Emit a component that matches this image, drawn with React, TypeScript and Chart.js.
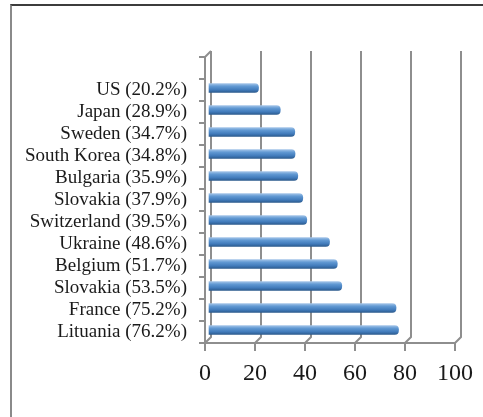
import React, { useEffect, useRef } from "react";
import { Chart, registerables } from "chart.js";

Chart.register(...registerables);

// Countries from top to bottom; the leading blank slot is the empty row above "US".
const countries = [
  "",
  "US",
  "Japan",
  "Sweden",
  "South Korea",
  "Bulgaria",
  "Slovakia",
  "Switzerland",
  "Ukraine",
  "Belgium",
  "Slovakia",
  "France",
  "Lituania",
];

const shares: (number | null)[] = [
  null, 20.2, 28.9, 34.7, 34.8, 35.9, 37.9, 39.5, 48.6, 51.7, 53.5, 75.2, 76.2,
];

const xTicks = [0, 20, 40, 60, 80, 100];

const categoryLabels = countries.map((name, i) =>
  shares[i] == null ? "" : `${name} (${(shares[i] as number).toFixed(1)}%)`
);

const LINE = "#8e8e8e";
const DEPTH_X = 6;
const DEPTH_Y = 6;
const BAR = 9;

// Back wall, left wall and floor of the 3-D box behind the bars.
const wallsPlugin = {
  id: "walls",
  beforeDatasetsDraw(chart: any) {
    const { ctx, chartArea, scales } = chart;
    const x = scales.x;
    const { top, bottom } = chartArea;
    ctx.save();
    ctx.strokeStyle = LINE;
    ctx.lineWidth = 2;
    xTicks.forEach((v) => {
      const px = x.getPixelForValue(v);
      ctx.beginPath();
      ctx.moveTo(px + DEPTH_X, top - DEPTH_Y);
      ctx.lineTo(px + DEPTH_X, bottom - DEPTH_Y);
      ctx.lineTo(px, bottom);
      ctx.stroke();
    });
    const left = x.getPixelForValue(0);
    ctx.beginPath();
    ctx.moveTo(left, top);
    ctx.lineTo(left + DEPTH_X, top - DEPTH_Y);
    ctx.stroke();
    ctx.restore();
  },
  // Bars sit halfway into the box depth.
  beforeDatasetDraw(chart: any) {
    chart.ctx.save();
    chart.ctx.translate(DEPTH_X / 2, -DEPTH_Y / 2 + 1);
  },
  afterDatasetDraw(chart: any) {
    chart.ctx.restore();
  },
};

export default function App() {
  const ref = useRef<HTMLCanvasElement>(null);

  useEffect(() => {
    if (!ref.current) return;
    const chart = new Chart(ref.current, {
      type: "bar",
      data: {
        labels: categoryLabels,
        datasets: [
          {
            data: shares,
            barThickness: BAR,
            borderRadius: { topRight: 4, bottomRight: 4, topLeft: 0, bottomLeft: 0 },
            borderSkipped: false,
            backgroundColor: (c: any) => {
              const ch = c.chart;
              const ys = ch.scales?.y;
              if (!ys || c.dataIndex == null) return "#4a86c5";
              const cy = ys.getPixelForValue(c.dataIndex);
              if (!Number.isFinite(cy)) return "#4a86c5";
              const g = ch.ctx.createLinearGradient(0, cy - BAR / 2, 0, cy + BAR / 2);
              g.addColorStop(0, "#a3c4e8");
              g.addColorStop(0.3, "#6199d3");
              g.addColorStop(0.7, "#417bbb");
              g.addColorStop(1, "#2c5b8e");
              return g;
            },
          },
        ],
      },
      options: {
        indexAxis: "y",
        responsive: false,
        animation: false,
        devicePixelRatio: 1,
        layout: { padding: { top: 57, right: 28, bottom: 24, left: 0 } },
        plugins: {
          legend: { display: false },
          tooltip: { enabled: false },
        },
        scales: {
          x: {
            min: 0,
            max: 100,
            afterFit: (s: any) => {
              s.height = 50;
            },
            afterBuildTicks: (s: any) => {
              s.ticks = xTicks.map((v) => ({ value: v }));
            },
            grid: {
              drawOnChartArea: false,
              drawTicks: true,
              tickLength: 8,
              color: LINE,
              lineWidth: 2,
            },
            border: { display: true, color: LINE, width: 2 },
            ticks: {
              padding: 8,
              color: "#1a1a1a",
              font: { family: "'Liberation Serif', serif", size: 24 },
            },
          },
          y: {
            afterFit: (s: any) => {
              s.width = 205;
            },
            grid: {
              drawOnChartArea: false,
              drawTicks: true,
              tickLength: 6,
              offset: true,
              color: LINE,
              lineWidth: 2,
            },
            border: { display: true, color: LINE, width: 2 },
            ticks: {
              padding: 12,
              autoSkip: false,
              color: "#1a1a1a",
              font: { family: "'Liberation Serif', serif", size: 19 },
            },
          },
        },
      },
      plugins: [wallsPlugin],
    } as any);
    return () => chart.destroy();
  }, []);

  return (
    <div
      style={{
        position: "fixed",
        left: 0,
        top: 0,
        width: 483,
        height: 417,
        overflow: "hidden",
        background: "#fff",
      }}
    >
      <div
        style={{
          position: "absolute",
          left: 10,
          top: 4,
          width: 700,
          height: 700,
          borderTop: "2px solid #3c3c3c",
          borderLeft: "2.5px solid #8a8a8a",
        }}
      />
      <canvas
        ref={ref}
        width={483}
        height={417}
        style={{ position: "absolute", left: 0, top: 0, width: 483, height: 417 }}
      />
    </div>
  );
}
